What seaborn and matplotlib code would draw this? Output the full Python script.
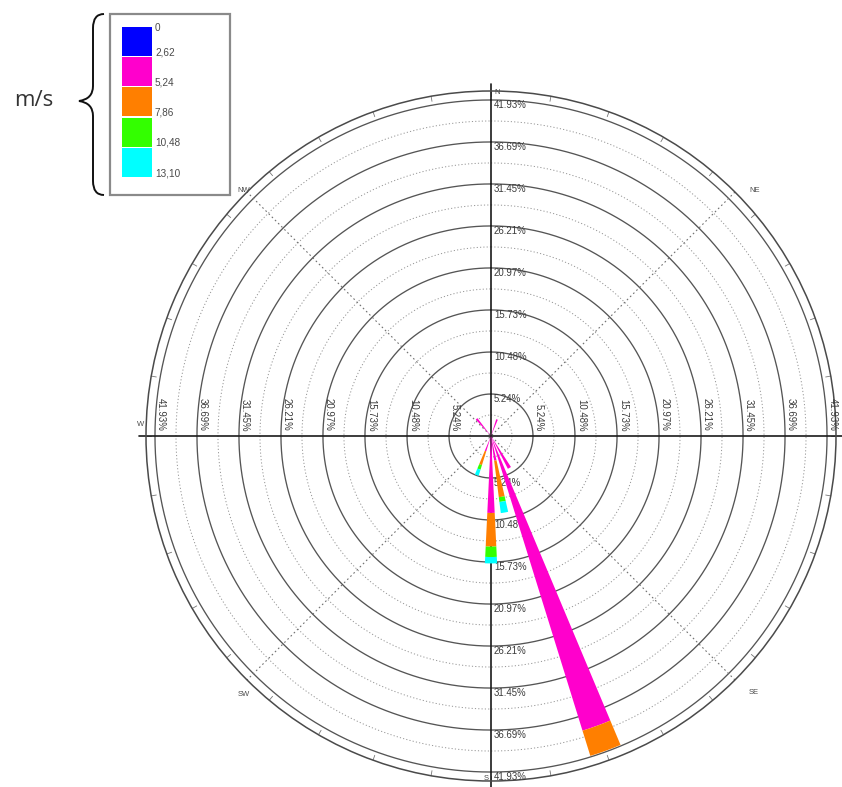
import numpy as np
import matplotlib
matplotlib.use("Agg")
import matplotlib.pyplot as plt
from matplotlib.path import Path
from matplotlib.patches import PathPatch, Rectangle
import seaborn as sns

# Wind speed classes (m/s) and their colours
speed_edges = ["0", "2,62", "5,24", "7,86", "10,48", "13,10"]
speed_colors = ["#0000ff", "#ff00cc", "#ff7f00", "#33ff00", "#00ffff"]

# Petal directions (degrees clockwise from north)
directions = [20, 150, 160, 170, 180, 200, 320]
# Frequency (%) of each speed class per direction
freq_0_262 = [0.0, 0.0, 0.0, 0.0, 0.0, 0.0, 0.0]
freq_262_524 = [2.2, 4.6, 38.5, 3.1, 9.6, 2.0, 2.8]
freq_524_786 = [0.0, 0.0, 3.3, 4.6, 4.2, 1.8, 0.0]
freq_786_1048 = [0.0, 0.0, 0.0, 0.6, 1.3, 0.6, 0.0]
freq_1048_1310 = [0.0, 0.0, 0.0, 1.4, 0.8, 0.8, 0.0]

# Frequency rings (%)
ring_values = [5.24, 10.48, 15.73, 20.97, 26.21, 31.45, 36.69, 41.93]
r_max = 43.05
sector_width_deg = 5.5

sns.set_style("white")
plt.rcParams["font.family"] = ["Liberation Sans", "DejaVu Sans"]

W, H = 842, 787
fig = plt.figure(figsize=(W / 100, H / 100), dpi=100)
fig.patch.set_facecolor("white")

# ---- polar rose ----
cx, cy, rad = 491, 436, 345
ax = fig.add_axes([(cx - rad) / W, (H - cy - rad) / H, 2 * rad / W, 2 * rad / H],
                  projection="polar")
ax.set_theta_zero_location("N")
ax.set_theta_direction(-1)
ax.set_ylim(0, r_max)
ax.grid(False)
ax.set_xticks([])
ax.set_yticks([])
ax.spines["polar"].set_color("#4a4a4a")
ax.spines["polar"].set_linewidth(1.1)
ax.patch.set_alpha(0)

th = np.linspace(0, 2 * np.pi, 721)
# solid rings and dotted half rings
prev = 0.0
for v in ring_values:
    ax.plot(th, np.full_like(th, v), color="#555555", lw=0.95, zorder=1)
    ax.plot(th, np.full_like(th, (prev + v) / 2), color="#959595", lw=0.7,
            ls=(0, (1.2, 2.2)), zorder=1)
    prev = v

# outer tick marks every 10 degrees
for d in range(0, 360, 10):
    t = np.deg2rad(d)
    ax.plot([t, t], [r_max * 0.985, r_max * 1.0], color="#777777", lw=0.6,
            clip_on=False, zorder=1)

# diagonal dotted lines
for d in (45, 135):
    t = np.deg2rad(d)
    ax.plot([t, t, t + np.pi], [r_max, 0, r_max], color="#707070", lw=0.8,
            ls=(0, (1.5, 2.5)), zorder=1)

# main cross
R = r_max * 1.02
ax.plot([0, 0, np.pi], [R, 0, R], color="#1a1a1a", lw=1.2, clip_on=False, zorder=2)
ax.plot([np.pi / 2, np.pi / 2, 3 * np.pi / 2], [R, 0, R], color="#1a1a1a", lw=1.2,
        clip_on=False, zorder=2)

# ring value labels along the axes
lab_kw = dict(fontsize=6.9, color="#3a3a3a", textcoords="offset points", zorder=3)
for v in ring_values:
    s = f"{v:.2f}%"
    ax.annotate(s, xy=(0, v), xytext=(2.2, -3.6), ha="left", va="center", **lab_kw)
    ax.annotate(s, xy=(np.pi, v), xytext=(2.2, -3.6), ha="left", va="center", **lab_kw)
    ax.annotate(s, xy=(np.pi / 2, v), xytext=(4.3, 3.5), ha="center", va="bottom",
                rotation=-90, **lab_kw)
    ax.annotate(s, xy=(3 * np.pi / 2, v), xytext=(4.3, 3.5), ha="center", va="bottom",
                rotation=-90, **lab_kw)

# stacked petals
theta = np.deg2rad(directions)
width = np.deg2rad(sector_width_deg)
bottom = np.zeros(len(directions))
for vals, col in zip([freq_0_262, freq_262_524, freq_524_786, freq_786_1048,
                      freq_1048_1310], speed_colors):
    vals = np.asarray(vals)
    ax.bar(theta, vals, width=width, bottom=bottom, color=col, edgecolor="none",
           linewidth=0, zorder=5)
    bottom = bottom + vals

# ---- overlay in pixel coordinates: compass letters, legend, brace ----
ov = fig.add_axes([0, 0, 1, 1])
ov.set_xlim(0, W)
ov.set_ylim(H, 0)
ov.axis("off")
ov.patch.set_alpha(0)

compass = [("N", 497, 93), ("S", 486, 779), ("W", 141, 424),
           ("NW", 244, 191), ("NE", 755, 191), ("SW", 244, 694), ("SE", 754, 693)]
for txt, x, y in compass:
    ov.text(x, y, txt, fontsize=5.5, color="#4a4a4a", ha="center", va="center")

# legend box
ov.add_patch(Rectangle((110, 14), 120, 181, facecolor="white", edgecolor="#8a8a8a",
                       lw=1.6))
sq_top, sq_h = 27, 30.2
for i, col in enumerate(speed_colors):
    ov.add_patch(Rectangle((122, sq_top + i * sq_h), 30, sq_h - 1.2, facecolor=col,
                           edgecolor="none"))
for i, lab in enumerate(speed_edges):
    y = max(sq_top + i * sq_h - 5, sq_top + 1)
    ov.text(155, y, lab, fontsize=7.2, color="#4a4a4a", ha="left", va="center")

# unit label with curly brace
ov.text(34, 100, "m/s", fontsize=16, color="#333333", ha="center", va="center",
        family=["Open Sans", "DejaVu Sans"])
verts = [(104, 14), (93, 14), (93, 28), (93, 86), (93, 99), (79, 101), (93, 103),
         (93, 116), (93, 181), (93, 195), (104, 195)]
codes = [Path.MOVETO, Path.CURVE3, Path.CURVE3, Path.LINETO, Path.CURVE3,
         Path.CURVE3, Path.CURVE3, Path.CURVE3, Path.LINETO, Path.CURVE3, Path.CURVE3]
ov.add_patch(PathPatch(Path(verts, codes), facecolor="none", edgecolor="#111111",
                       lw=1.4))

fig.savefig("out.png", dpi=100)
